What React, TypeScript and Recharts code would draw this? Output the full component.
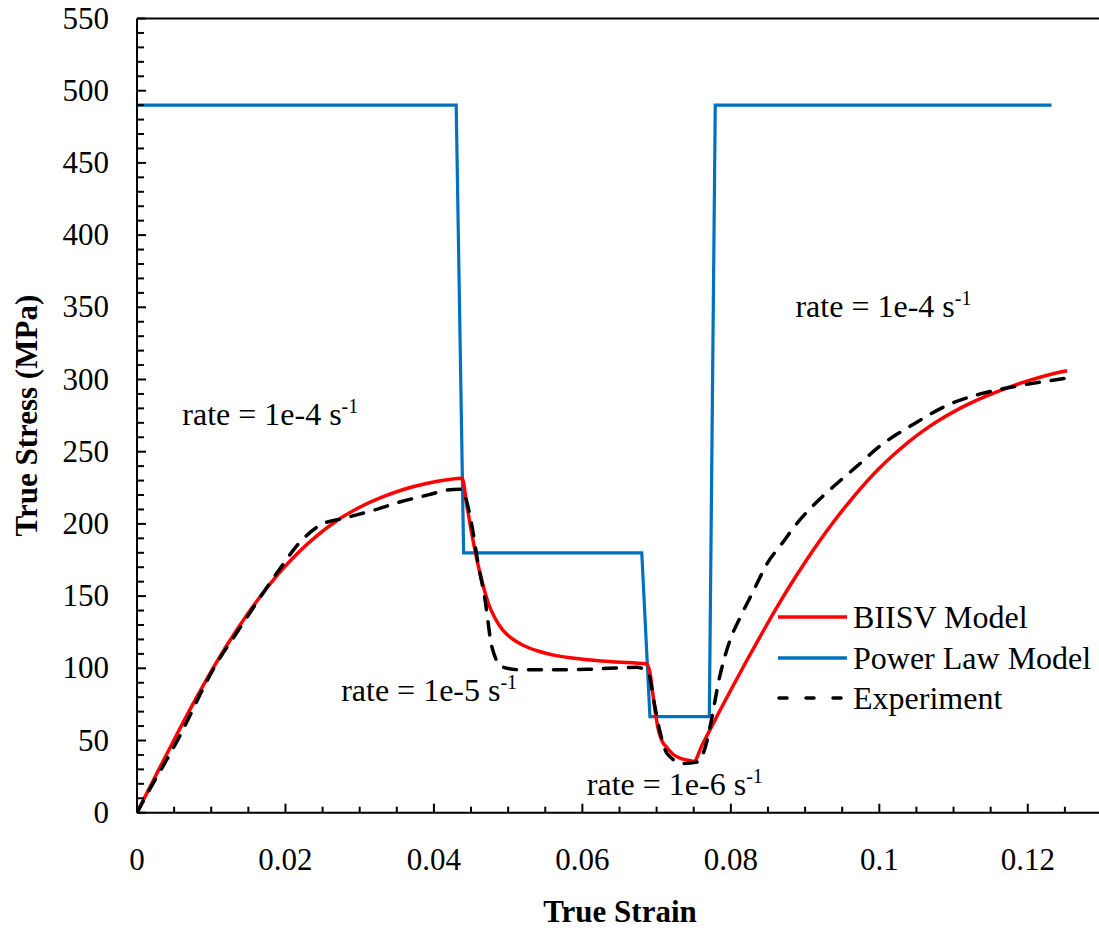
import React from 'react';
import { LineChart, Line, XAxis, YAxis, ReferenceLine, ReferenceDot, Legend, Label } from 'recharts';

const FONT = '"Liberation Serif", "Times New Roman", serif';
const FS = 31;
const FS_TEXT = 32;

// BIISV Model (red)
const biisvStrain = [0, 0.0027, 0.0054, 0.0081, 0.0108, 0.0135, 0.0162, 0.0189, 0.0216, 0.0243, 0.0270, 0.0300, 0.0330, 0.0360, 0.0390, 0.0420, 0.0438,
  0.0444, 0.0450, 0.0456, 0.0462, 0.0468, 0.0474, 0.0482, 0.0492, 0.0504, 0.0520, 0.0540, 0.0565, 0.0600, 0.0640, 0.0687,
  0.0691, 0.0695, 0.0699, 0.0703, 0.0708, 0.0714, 0.0722, 0.0733, 0.0741, 0.0750,
  0.0761, 0.0772, 0.0783, 0.0800, 0.0820, 0.0840, 0.0860, 0.0880, 0.0900, 0.0920, 0.0940, 0.0960, 0.0980, 0.1000, 0.1020, 0.1040, 0.1060, 0.1080, 0.1100, 0.1120, 0.1140, 0.1160, 0.1180, 0.1200, 0.1225, 0.1253];
const biisvStress = [0, 27.5, 54.5, 80.5, 105, 127, 147, 164.5, 179.5, 192, 202.5, 211.5, 218.5, 224, 228, 230.7, 231.7,
  214, 196, 180, 166, 154, 144, 135, 127, 121, 116, 112, 108.8, 106.3, 104.5, 103,
  97, 82, 67, 56, 49, 45, 40.5, 37.5, 36.5, 35.5,
  46.5, 57.5, 68.5, 85, 104, 122.5, 140.5, 157.5, 173.5, 188.5, 202.5, 215.5, 227.5, 238.5, 248.2, 257, 264.8, 271.6, 277.6, 282.9, 287.6, 291.8, 295.6, 299, 302.8, 306];

// Power Law Model (blue)
const powerStrain = [0, 0.0430, 0.0440, 0.0680, 0.0691, 0.0771, 0.0779, 0.1232];
const powerStress = [490, 490, 180, 180, 66.5, 66.5, 490, 490];

// Experiment (black dashed)
const expStrain = [0, 0.0018, 0.0039, 0.0057, 0.0072, 0.0088, 0.0108, 0.0131, 0.0151, 0.0169, 0.0192, 0.0220, 0.0247, 0.0278, 0.0319, 0.0355, 0.0391, 0.0426, 0.0437, 0.0447, 0.0453, 0.0458, 0.0469, 0.0478, 0.0492, 0.0516, 0.0560, 0.0606, 0.0673, 0.0689, 0.0696, 0.0705, 0.0714, 0.0736, 0.0754, 0.0768, 0.0772, 0.0786, 0.0799, 0.0813, 0.0831, 0.0849, 0.0869, 0.0889, 0.0916, 0.0943, 0.0970, 0.1001, 0.1046, 0.1091, 0.1136, 0.1181, 0.1253];
const expStress = [0, 17, 35.8, 52.5, 68, 85, 104, 122, 137.5, 151.5, 168.6, 187.6, 199.2, 203.8, 209.5, 215.3, 219.9, 223.9, 224, 209.5, 193.4, 177, 147, 115, 101, 99, 99, 99.3, 100.7, 96.5, 78, 55, 41, 34, 35, 50, 59.5, 96.5, 119.6, 135.7, 154.2, 172.6, 186.5, 200.3, 215.3, 228, 240, 254, 269, 282, 290, 295, 301];

const xTicks = [0, 0.005, 0.01, 0.015, 0.02, 0.025, 0.03, 0.035, 0.04, 0.045, 0.05, 0.055, 0.06, 0.065, 0.07, 0.075, 0.08, 0.085, 0.09, 0.095, 0.1, 0.105, 0.11, 0.115, 0.12, 0.125, 0.13];
const xMajorLabels = ['0', '0.02', '0.04', '0.06', '0.08', '0.1', '0.12'];
const yTicks = [0, 10, 20, 30, 40, 50, 60, 70, 80, 90, 100, 110, 120, 130, 140, 150, 160, 170, 180, 190, 200, 210, 220, 230, 240, 250, 260, 270, 280, 290, 300, 310, 320, 330, 340, 350, 360, 370, 380, 390, 400, 410, 420, 430, 440, 450, 460, 470, 480, 490, 500, 510, 520, 530, 540, 550];

const seriesNames = ['BIISV Model', 'Power Law Model', 'Experiment'];
const seriesColors = ['#FF0000', '#0070C0', '#000000'];

const annotationX = [0.0061, 0.0887, 0.0275, 0.0606];
const annotationY = [268.4, 343.4, 77.5, 12.2];
const annotationText = ['rate = 1e-4 s', 'rate = 1e-4 s', 'rate = 1e-5 s', 'rate = 1e-6 s'];
const annotationSup = '-1';

const zip = (xs: number[], ys: number[]) => xs.map((x, i) => ({ x, y: ys[i] }));
const biisvData = zip(biisvStrain, biisvStress);
const powerData = zip(powerStrain, powerStress);
const expData = zip(expStrain, expStress);

const XTick = (props: any) => {
  const { x, y, payload } = props;
  const v = payload.value;
  const k = Math.round(v * 1000);
  const major = k % 20 === 0;
  const label = major ? xMajorLabels[k / 20] : null;
  return (
    <g>
      <line x1={x} x2={x} y1={y} y2={y - (major ? 9 : 6)} stroke="#000" strokeWidth={2} />
      {label != null && (
        <text x={x} y={y + 57} textAnchor="middle" fontFamily={FONT} fontSize={FS} fill="#000">{label}</text>
      )}
    </g>
  );
};

const YTick = (props: any) => {
  const { x, y, payload } = props;
  const v = payload.value;
  const major = v % 50 === 0;
  return (
    <g>
      <line x1={x} x2={x + (major ? 9 : 7)} y1={y} y2={y} stroke="#000" strokeWidth={2} />
      {major && (
        <text x={x - 28} y={y + 10} textAnchor="end" fontFamily={FONT} fontSize={FS} fill="#000">{v}</text>
      )}
    </g>
  );
};

const YTitle = (props: any) => {
  const vb = props.viewBox || {};
  const cy = (vb.y ?? 18.5) + (vb.height ?? 794) / 2;
  const cx = 27;
  return (
    <text x={cx} y={cy} transform={`rotate(-90 ${cx} ${cy})`} textAnchor="middle" dominantBaseline="central"
      fontFamily={FONT} fontSize={FS} fontWeight="bold" fill="#000">True Stress (MPa)</text>
  );
};

const XTitle = () => (
  <text x={620} y={922} textAnchor="middle" fontFamily={FONT} fontSize={FS} fontWeight="bold" fill="#000">True Strain</text>
);

const renderLegend = () => (
  <div style={{ fontFamily: FONT, fontSize: FS_TEXT, color: '#000', lineHeight: 1 }}>
    {seriesNames.map((name, i) => (
      <div key={name} style={{ display: 'flex', alignItems: 'center', height: 40.5, whiteSpace: 'nowrap' }}>
        <svg width={72} height={10} style={{ marginRight: 4 }}>
          <line x1={i === 2 ? 2 : 1} x2={70} y1={5} y2={5} stroke={seriesColors[i]} strokeWidth={3.5}
            strokeLinecap={i === 2 ? 'round' : 'butt'}
            strokeDasharray={i === 2 ? '8 19' : undefined} />
        </svg>
        <span>{name}</span>
      </div>
    ))}
  </div>
);

const AnnotationShape = (idx: number) => (props: any) => {
  const { cx, cy } = props;
  return (
    <text x={cx} y={cy} fontFamily={FONT} fontSize={FS_TEXT} fill="#000">
      {annotationText[idx]}
      <tspan fontSize={20} dy={-12}>{annotationSup}</tspan>
    </text>
  );
};

export default function App() {
  return (
    <div style={{ position: 'absolute', left: 0, top: 0, width: 1099, height: 930, overflow: 'hidden', background: '#fff' }}>
      <LineChart width={1110} height={930} margin={{ top: 18.5, right: 8, bottom: 17.3, left: 0 }}>
        <XAxis dataKey="x" type="number" domain={[0, 0.13]} ticks={xTicks} interval={0} allowDataOverflow
          tick={<XTick />} tickLine={false} tickSize={0} tickMargin={0} height={100}
          axisLine={{ stroke: '#000', strokeWidth: 2 }}>
          <Label content={<XTitle />} />
        </XAxis>
        <YAxis type="number" domain={[0, 550]} ticks={yTicks} interval={0} allowDataOverflow
          tick={<YTick />} tickLine={false} tickSize={0} tickMargin={0} width={137}
          axisLine={{ stroke: '#000', strokeWidth: 2 }}>
          <Label content={<YTitle />} />
        </YAxis>
        <ReferenceLine y={550} stroke="#000" strokeWidth={2} />
        <Line data={powerData} dataKey="y" type="linear" stroke={seriesColors[1]} strokeWidth={3.2} dot={false} isAnimationActive={false} name={seriesNames[1]} />
        <Line data={biisvData} dataKey="y" type="monotone" stroke={seriesColors[0]} strokeWidth={3.5} dot={false} isAnimationActive={false} name={seriesNames[0]} />
        <Line data={expData} dataKey="y" type="monotone" stroke={seriesColors[2]} strokeWidth={3.5} strokeDasharray="13 12" strokeLinecap="round" dot={false} isAnimationActive={false} name={seriesNames[2]} />
        {annotationX.map((ax, i) => (
          <ReferenceDot key={i} x={ax} y={annotationY[i]} r={0} shape={AnnotationShape(i)} />
        ))}
        <Legend layout="vertical" align="center" verticalAlign="middle" content={renderLegend}
          wrapperStyle={{ left: 777, top: 597, width: 320, height: 122 }} />
      </LineChart>
    </div>
  );
}
